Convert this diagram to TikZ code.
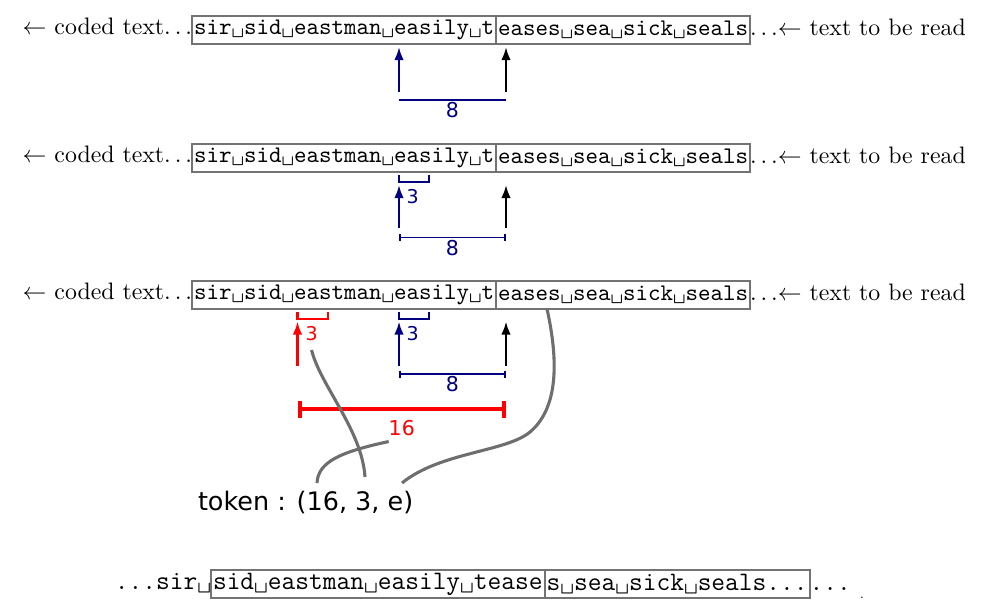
\documentclass[tikz,border=0pt]{standalone}
\usepackage{fontspec}
\usepackage{tikz}
\usetikzlibrary{arrows.meta,calc,positioning}
\newfontfamily\labelfont{DejaVu Sans}
\definecolor{navy}{RGB}{0,0,128}
\definecolor{boxgray}{RGB}{115,115,115}
\definecolor{linkgray}{RGB}{110,110,110}
\newcommand{\vsp}{\textvisiblespace}
\newcommand{\bigtt}{\fontsize{11.2}{13}\selectfont\ttfamily}

\begin{document}
\begin{tikzpicture}[x=0.42pt, y=-0.42pt, every node/.style={inner sep=0pt, outer sep=0pt}]
	\tikzstyle{window} = [draw=boxgray, line width=0.75pt, inner xsep=0.85pt, minimum height=11.8pt, font=\ttfamily]
	\tikzstyle{ptr} = [-{Latex[length=5.5pt, width=4pt]}, line width=0.9pt]
	\tikzstyle{span} = [{Bar[width=3pt]}-{Bar[width=3pt]}, line width=0.75pt]
	\tikzstyle{bigspan} = [{Bar[width=7pt]}-{Bar[width=7pt]}, line width=1.7pt]
	\tikzstyle{bracket} = [line width=0.85pt]
	\tikzstyle{num} = [font=\labelfont\fontsize{8.6}{10}\selectfont]
	\tikzstyle{small} = [font=\labelfont\fontsize{8}{10}\selectfont]
	\tikzstyle{link} = [draw=linkgray, line width=1.3pt]
	\useasboundingbox (0,0) rectangle (992,613);
	% row 1
	\node[window, anchor=west] (w1) at (192,30) {sir\vsp sid\vsp eastman\vsp easily\vsp t};
	\node[window, anchor=west] (l1) at (w1.east) {eases\vsp sea\vsp sick\vsp seals};
	\node[anchor=base east] (c1) at (w1.base west) {$\leftarrow$ coded text$\ldots$};
	\node[anchor=base west] (t1) at (l1.base east) {$\ldots$$\leftarrow$ text to be read};
	\coordinate (s1) at (399,92);
	\coordinate (e1) at (506,92);
	\draw[ptr, navy] (s1) -- ($(s1 |- w1.south)+(0,3)$);
	\draw[ptr] (e1) -- ($(e1 |- l1.south)+(0,3)$);
	\draw[navy, line width=0.85pt] ($(s1)+(0,8.3)$) -- node[num, below=1pt] {8} ($(e1)+(0,8.3)$);
	% row 2
	\node[window, anchor=west] (w2) at (192,158) {sir\vsp sid\vsp eastman\vsp easily\vsp t};
	\node[window, anchor=west] (l2) at (w2.east) {eases\vsp sea\vsp sick\vsp seals};
	\node[anchor=base east] (c2) at (w2.base west) {$\leftarrow$ coded text$\ldots$};
	\node[anchor=base west] (t2) at (l2.base east) {$\ldots$$\leftarrow$ text to be read};
	\coordinate (s2) at (399,228);
	\coordinate (e2) at (506,228);
	\draw[bracket, navy] ($(s2 |- w2.south)+(0,3)$) -- ++(0,7) -- ++(30,0) -- ++(0,-7);
	\node[small, navy, anchor=north west] (n2) at ($(s2 |- w2.south)+(7.5,17.5)$) {3};
	\draw[ptr, navy] (s2) -- ($(s2 |- w2.south)+(0,13)$);
	\draw[ptr] (e2) -- ($(e2 |- l2.south)+(0,13)$);
	\draw[span, navy] ($(s2)+(0,9.5)$) -- node[num, below=1pt] {8} ($(e2)+(0,9.5)$);
	% row 3
	\node[window, anchor=west] (w3) at (192,295) {sir\vsp sid\vsp eastman\vsp easily\vsp t};
	\node[window, anchor=west] (l3) at (w3.east) {eases\vsp sea\vsp sick\vsp seals};
	\node[anchor=base east] (c3) at (w3.base west) {$\leftarrow$ coded text$\ldots$};
	\node[anchor=base west] (t3) at (l3.base east) {$\ldots$$\leftarrow$ text to be read};
	\coordinate (r3) at (297.5,366);
	\coordinate (s3) at (399,366);
	\coordinate (e3) at (506,366);
	\draw[bracket, red] ($(r3 |- w3.south)+(0,3)$) -- ++(0,7) -- ++(30.5,0) -- ++(0,-7);
	\draw[bracket, navy] ($(s3 |- w3.south)+(0,3)$) -- ++(0,7) -- ++(30,0) -- ++(0,-7);
	\node[small, red, anchor=north west] (n3r) at ($(r3 |- w3.south)+(8,17.5)$) {3};
	\node[small, navy, anchor=north west] (n3) at ($(s3 |- w3.south)+(7.5,17.5)$) {3};
	\draw[ptr, red] (r3) -- ($(r3 |- w3.south)+(0,12.5)$);
	\draw[ptr, navy] (s3) -- ($(s3 |- w3.south)+(0,12.5)$);
	\draw[ptr] (e3) -- ($(e3 |- l3.south)+(0,12.5)$);
	\draw[span, navy] ($(s3)+(0,8.3)$) -- node[num, below=1pt] {8} ($(e3)+(0,8.3)$);
	\draw[bigspan, red] ($(r3)+(0,43.3)$) -- node[num, below=4.5pt] (n16) {16} ($(e3)+(0,43.3)$);
	% token
	\node[anchor=base west, font=\labelfont\fontsize{10.7}{13}\selectfont] (tok) at (198,510) {token : (16, 3, e)};
	\coordinate (k16) at (317,483);
	\coordinate (k3) at (365,477);
	\coordinate (ke) at (402,483);
	\draw[link] ($(n3r.south)+(0,9)$) .. controls (320,385) and (362,430) .. (k3);
	\draw[link] ($(n16.south west)+(0,6)$) .. controls (340,452) and (318,462) .. (k16);
	\draw[link] ($(l3.south west)+(51,0)$) .. controls (556,350) and (562,405) .. (530,432) .. controls (506,452) and (440,452) .. (ke);
	% result
	\node[window, anchor=west, font=\bigtt] (wb) at (211,584) {sid\vsp eastman\vsp easily\vsp tease};
	\node[window, anchor=west, font=\bigtt] (lb) at (wb.east) {s\vsp sea\vsp sick\vsp seals...};
	\node[anchor=base east, font=\bigtt] (pb) at (wb.base west) {...sir\vsp};
	\node[anchor=base west, font=\bigtt] (qb) at (lb.base east) {...};
	\node[anchor=base, font=\tiny] (stop) at (862,598) {.};
\end{tikzpicture}
\end{document}
